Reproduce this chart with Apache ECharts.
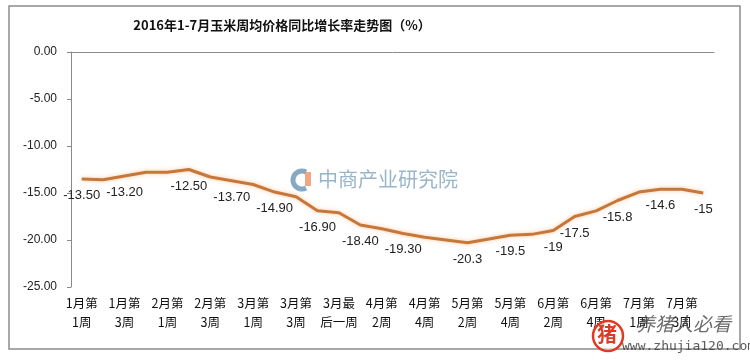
<!DOCTYPE html>
<html>
<head>
<meta charset="utf-8">
<script src="https://cdn.jsdelivr.net/npm/echarts@6/dist/echarts.min.js"></script>
<style>html,body{margin:0;padding:0;background:#fff;}#c{width:750px;height:361px;}</style>
</head>
<body>
<div id="c"></div>
<script>
const titleText = '2016年1-7月玉米周均价格同比增长率走势图（%）';
const categories = [
  '1月第\n1周','1月第\n2周','1月第\n3周','1月第\n4周',
  '2月第\n1周','2月第\n2周','2月第\n3周','2月第\n4周',
  '3月第\n1周','3月第\n2周','3月第\n3周','3月第\n4周','3月最\n后一周',
  '4月第\n1周','4月第\n2周','4月第\n3周','4月第\n4周',
  '5月第\n1周','5月第\n2周','5月第\n3周','5月第\n4周',
  '6月第\n1周','6月第\n2周','6月第\n3周','6月第\n4周','6月第\n5周',
  '7月第\n1周','7月第\n2周','7月第\n3周','7月第\n4周'
];
const values = [
  -13.5,-13.6,-13.2,-12.8,-12.8,-12.5,-13.3,-13.7,-14.1,-14.9,
  -15.4,-16.9,-17.1,-18.4,-18.8,-19.3,-19.7,-20.0,-20.3,-19.9,
  -19.5,-19.4,-19.0,-17.5,-16.9,-15.8,-14.9,-14.6,-14.6,-15.0
];
const pointLabels = [
  '-13.50','','-13.20','','','-12.50','','-13.70','','-14.90',
  '','-16.90','','-18.40','','-19.30','','','-20.3','',
  '-19.5','','-19','-17.5','','-15.8','','-14.6','','-15'
];
const yTicks = [0,-5,-10,-15,-20,-25];

const chart = echarts.init(document.getElementById('c'));
chart.setOption({
  animation:false,
  backgroundColor:'#fff',
  title:{
    text:titleText, left:277, top:14, textAlign:'center',
    textStyle:{fontSize:13, fontWeight:'bold', color:'#111', fontFamily:'"Noto Sans CJK SC", serif'}
  },
  grid:{left:71, right:36, top:52, bottom:74},
  xAxis:[{
    type:'category', data:categories, boundaryGap:true, position:'bottom',
    axisLine:{show:false}, axisTick:{show:false},
    axisLabel:{interval:1, margin:7, fontSize:12.5, lineHeight:19, color:'#111', fontFamily:'"Noto Sans CJK SC", sans-serif'}
  },{
    type:'category', data:categories, boundaryGap:true, position:'top',
    axisLine:{show:true, lineStyle:{color:'#8a8a8a', width:1}}, axisTick:{show:false}, axisLabel:{show:false}
  }],
  yAxis:{
    type:'value', min:-25, max:0, interval:5,
    axisLine:{show:true, lineStyle:{color:'#8a8a8a', width:1}},
    axisTick:{show:true, length:4, lineStyle:{color:'#8a8a8a'}},
    splitLine:{show:false},
    axisLabel:{margin:14, fontSize:12, color:'#222', fontFamily:'Arial, "Liberation Sans", sans-serif',
      formatter:v=>v.toFixed(2)}
  },
  graphic:[
    {type:'rect', shape:{x:9, y:6, width:731, height:343}, style:{fill:null, stroke:'#8c8c8c', lineWidth:1.5}, z:-1},
    {type:'arc', shape:{cx:302, cy:180, r:9, startAngle:Math.PI*0.35, endAngle:Math.PI*1.65}, style:{fill:null, stroke:'rgba(95,140,175,0.75)', lineWidth:5}, z:0},
    {type:'rect', shape:{x:305, y:172, width:6, height:14}, style:{fill:'rgba(235,130,80,0.7)'}, z:0},
    {type:'text', left:318, top:169, style:{text:'中商产业研究院', font:'20px "Noto Sans CJK SC"', fill:'rgba(110,150,180,0.7)'}, z:0},
    {type:'circle', shape:{cx:608, cy:336, r:15}, style:{fill:'rgba(255,255,255,0.6)', stroke:'#e03a25', lineWidth:2.5}, z:5},
    {type:'text', left:597, top:324, style:{text:'猪', font:'bold 20px "Noto Sans CJK SC"', fill:'#e03a25'}, z:5},
    {type:'text', left:636, top:314, style:{text:'养猪人必看', font:'italic 19px "Noto Sans CJK SC"', fill:'rgba(70,70,70,0.8)'}, z:5},
    {type:'text', left:622, top:340, style:{text:'www.zhujia120.com', font:'13px "DejaVu Sans Mono"', fill:'rgba(60,60,60,0.85)'}, z:5}
  ],
  series:[{
    type:'line', data:values, symbol:'circle', symbolSize:2, showSymbol:true, showAllSymbol:true,
    itemStyle:{color:'rgba(200,119,58,0)', borderWidth:0}, smooth:false,
    lineStyle:{color:'#c8773a', width:3, shadowColor:'rgba(245,180,120,0.7)', shadowBlur:4},
    label:{show:true, position:'bottom', distance:9, fontSize:13, color:'#222', fontFamily:'Arial, "Liberation Sans", sans-serif',
      formatter:p=>pointLabels[p.dataIndex]},
    labelLayout:{hideOverlap:false},
    z:3
  }]
});
</script>
</body>
</html>
